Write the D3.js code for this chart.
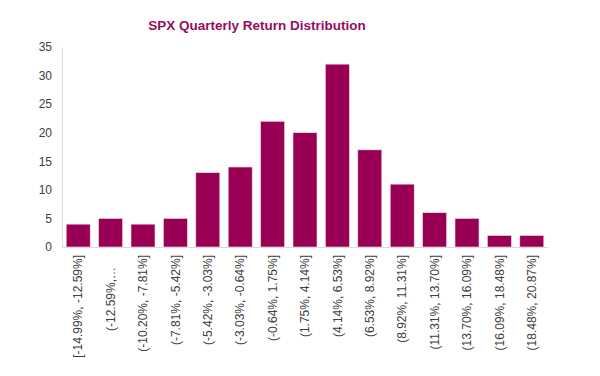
<!DOCTYPE html>
<html><head><meta charset="utf-8">
<script src="https://cdn.jsdelivr.net/npm/d3@7"></script>
<style>body{margin:0;background:#fff}svg{display:block}text{font-family:"Liberation Sans",Arial,sans-serif}</style>
</head><body>
<svg id="c" width="600" height="376"></svg>
<script>
const title = "SPX Quarterly Return Distribution";
const categories = ["[-14.99%, -12.59%]","(-12.59%,…","(-10.20%, -7.81%]","(-7.81%, -5.42%]","(-5.42%, -3.03%]","(-3.03%, -0.64%]","(-0.64%, 1.75%]","(1.75%, 4.14%]","(4.14%, 6.53%]","(6.53%, 8.92%]","(8.92%, 11.31%]","(11.31%, 13.70%]","(13.70%, 16.09%]","(16.09%, 18.48%]","(18.48%, 20.87%]"];
const counts = [4,5,4,5,13,14,22,20,32,17,11,6,5,2,2];
const yTicks = [0,5,10,15,20,25,30,35];

const svg = d3.select("#c");
const color = "#990055";
const x = d3.scaleBand().domain(categories).range([62,548]).paddingInner(0.26).paddingOuter(0.13);
const y = d3.scaleLinear().domain([0,35]).range([247,47]);

svg.append("text").attr("x",257).attr("y",30).attr("text-anchor","middle")
  .attr("font-size",13.5).attr("font-weight","bold").attr("fill","#9b0b5c").text(title);

// y axis
const ya = svg.append("g").attr("transform","translate(62,0)").call(d3.axisLeft(y).tickValues(yTicks).tickSize(0).tickPadding(10));
ya.select(".domain").attr("stroke","#d9d9d9");
ya.selectAll("text").attr("font-size",12).attr("fill","#404040").attr("font-family","Liberation Sans, Arial, sans-serif");

// bars
svg.selectAll("rect.bar").data(counts).join("rect").attr("class","bar")
  .attr("x",(d,i)=>x(categories[i])).attr("width",x.bandwidth())
  .attr("y",d=>y(d)).attr("height",d=>y(0)-y(d))
  .attr("fill",color).attr("stroke","#f3d9e6").attr("stroke-width",0.6);

// x axis
const xa = svg.append("g").attr("transform","translate(0,247)").call(d3.axisBottom(x).tickSize(0).tickPadding(0));
xa.select(".domain").attr("stroke","#d9d9d9");
xa.selectAll("text").attr("font-size",12).attr("fill","#404040").attr("font-family","Liberation Sans, Arial, sans-serif")
  .attr("transform","rotate(-90)")
  .attr("dy","0.35em")
  .attr("y",0)
  .attr("x",d=>d.endsWith("…")? -52 : -8)
  .attr("text-anchor",d=>d.endsWith("…")?"middle":"end");
</script>
</body></html>
